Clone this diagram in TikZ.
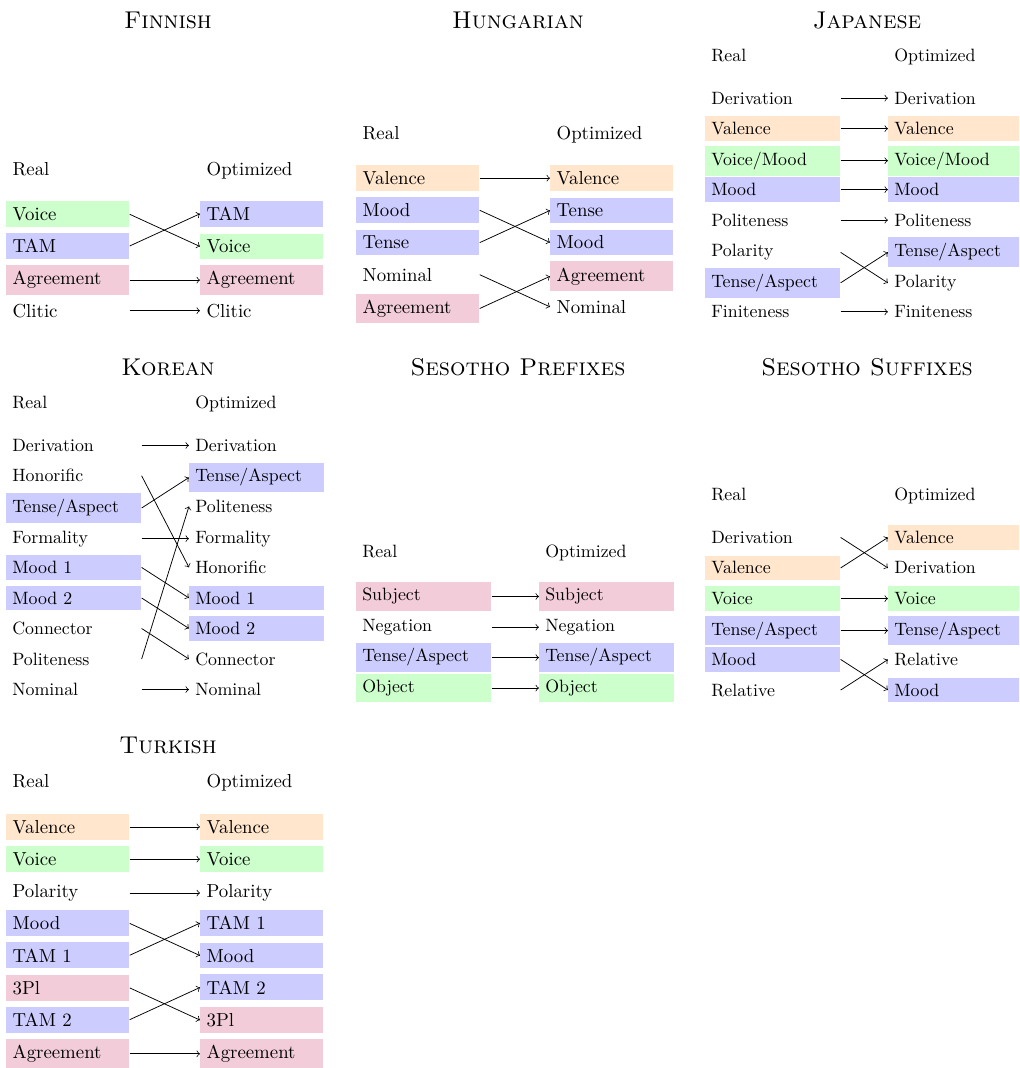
\documentclass[tikz,border=0pt]{standalone}
\definecolor{cVal}{RGB}{255,230,204}
\definecolor{cVoi}{RGB}{204,255,204}
\definecolor{cTam}{RGB}{204,204,255}
\definecolor{cAgr}{RGB}{242,204,217}
\begin{document}
\begin{tikzpicture}[x=0.5316pt,y=-0.5316pt,
  nc/.style={anchor=base west, text width=58.7pt, align=left},
  wc/.style={anchor=base west, text width=69pt, align=left},
  fval/.style={fill=cVal}, fvoi/.style={fill=cVoi}, ftam/.style={fill=cTam}, fagr/.style={fill=cAgr},
  ttl/.style={font=\fontsize{12.9}{15}\selectfont\scshape, anchor=base},
  arr/.style={->}]
\clip (0,0) rectangle (1019,1068);

% titles
\node[ttl] (tF) at (168,28) {Finnish};
\node[ttl] (tH) at (518,28) {Hungarian};
\node[ttl] (tJ) at (867,28) {Japanese};
\node[ttl] (tK) at (168,375.5) {Korean};
\node[ttl] (tSP) at (518,375.5) {Sesotho Prefixes};
\node[ttl] (tSS) at (867,375.5) {Sesotho Suffixes};
\node[ttl] (tT) at (168,753.3) {Turkish};

% Finnish
\begin{scope}[shift={(6,175)}]
\node[nc] (fRh) at (0,0) {Real};
\node[nc] (fOh) at (194,0) {Optimized};
\node[nc,fvoi] (fR0) at (0,45.5) {Voice};
\node[nc,ftam] (fR1) at (0,77.7) {TAM};
\node[nc,fagr] (fR2) at (0,109.9) {Agreement};
\node[nc] (fR3) at (0,142.1) {Clitic};
\node[nc,ftam] (fO0) at (194,45.5) {TAM};
\node[nc,fvoi] (fO1) at (194,77.7) {Voice};
\node[nc,fagr] (fO2) at (194,109.9) {Agreement};
\node[nc] (fO3) at (194,142.1) {Clitic};
\draw[arr] (fR0.east) -- (fO1.west);
\draw[arr] (fR1.east) -- (fO0.west);
\draw[arr] (fR2.east) -- (fO2.west);
\draw[arr] (fR3.east) -- (fO3.west);
\end{scope}

% Hungarian
\begin{scope}[shift={(356,139)}]
\node[nc] (hRh) at (0,0) {Real};
\node[nc] (hOh) at (194,0) {Optimized};
\node[nc,fval] (hR0) at (0,45.5) {Valence};
\node[nc,ftam] (hR1) at (0,77.7) {Mood};
\node[nc,ftam] (hR2) at (0,109.9) {Tense};
\node[nc] (hR3) at (0,142.1) {Nominal};
\node[nc,fagr] (hR4) at (0,174.3) {Agreement};
\node[nc,fval] (hO0) at (194,45.5) {Valence};
\node[nc,ftam] (hO1) at (194,77.7) {Tense};
\node[nc,ftam] (hO2) at (194,109.9) {Mood};
\node[nc,fagr] (hO3) at (194,142.1) {Agreement};
\node[nc] (hO4) at (194,174.3) {Nominal};
\draw[arr] (hR0.east) -- (hO0.west);
\draw[arr] (hR1.east) -- (hO2.west);
\draw[arr] (hR2.east) -- (hO1.west);
\draw[arr] (hR3.east) -- (hO4.west);
\draw[arr] (hR4.east) -- (hO3.west);
\end{scope}

% Japanese
\begin{scope}[shift={(705,61)}, scale=0.948, transform shape]
\node[wc] (jRh) at (0,0) {Real};
\node[wc] (jOh) at (193,0) {Optimized};
\node[wc] (jR0) at (0,45.5) {Derivation};
\node[wc,fval] (jR1) at (0,77.7) {Valence};
\node[wc,fvoi] (jR2) at (0,109.9) {Voice/Mood};
\node[wc,ftam] (jR3) at (0,142.1) {Mood};
\node[wc] (jR4) at (0,174.3) {Politeness};
\node[wc] (jR5) at (0,206.5) {Polarity};
\node[wc,ftam] (jR6) at (0,238.7) {Tense/Aspect};
\node[wc] (jR7) at (0,270.9) {Finiteness};
\node[wc] (jO0) at (193,45.5) {Derivation};
\node[wc,fval] (jO1) at (193,77.7) {Valence};
\node[wc,fvoi] (jO2) at (193,109.9) {Voice/Mood};
\node[wc,ftam] (jO3) at (193,142.1) {Mood};
\node[wc] (jO4) at (193,174.3) {Politeness};
\node[wc,ftam] (jO5) at (193,206.5) {Tense/Aspect};
\node[wc] (jO6) at (193,238.7) {Polarity};
\node[wc] (jO7) at (193,270.9) {Finiteness};
\draw[arr] (jR0.east) -- (jO0.west);
\draw[arr] (jR1.east) -- (jO1.west);
\draw[arr] (jR2.east) -- (jO2.west);
\draw[arr] (jR3.east) -- (jO3.west);
\draw[arr] (jR4.east) -- (jO4.west);
\draw[arr] (jR5.east) -- (jO6.west);
\draw[arr] (jR6.east) -- (jO5.west);
\draw[arr] (jR7.east) -- (jO7.west);
\end{scope}

% Korean
\begin{scope}[shift={(6,408.3)}, scale=0.948, transform shape]
\node[wc] (kRh) at (0,0) {Real};
\node[wc] (kOh) at (193,0) {Optimized};
\node[wc] (kR0) at (0,45.5) {Derivation};
\node[wc] (kR1) at (0,77.7) {Honorific};
\node[wc,ftam] (kR2) at (0,109.9) {Tense/Aspect};
\node[wc] (kR3) at (0,142.1) {Formality};
\node[wc,ftam] (kR4) at (0,174.3) {Mood 1};
\node[wc,ftam] (kR5) at (0,206.5) {Mood 2};
\node[wc] (kR6) at (0,238.7) {Connector};
\node[wc] (kR7) at (0,270.9) {Politeness};
\node[wc] (kR8) at (0,303.1) {Nominal};
\node[wc] (kO0) at (193,45.5) {Derivation};
\node[wc,ftam] (kO1) at (193,77.7) {Tense/Aspect};
\node[wc] (kO2) at (193,109.9) {Politeness};
\node[wc] (kO3) at (193,142.1) {Formality};
\node[wc] (kO4) at (193,174.3) {Honorific};
\node[wc,ftam] (kO5) at (193,206.5) {Mood 1};
\node[wc,ftam] (kO6) at (193,238.7) {Mood 2};
\node[wc] (kO7) at (193,270.9) {Connector};
\node[wc] (kO8) at (193,303.1) {Nominal};
\draw[arr] (kR0.east) -- (kO0.west);
\draw[arr] (kR1.east) -- (kO4.west);
\draw[arr] (kR2.east) -- (kO1.west);
\draw[arr] (kR3.east) -- (kO3.west);
\draw[arr] (kR4.east) -- (kO5.west);
\draw[arr] (kR5.east) -- (kO6.west);
\draw[arr] (kR6.east) -- (kO7.west);
\draw[arr] (kR7.east) -- (kO2.west);
\draw[arr] (kR8.east) -- (kO8.west);
\end{scope}

% Sesotho prefixes
\begin{scope}[shift={(356,557.8)}, scale=0.948, transform shape]
\node[wc] (pRh) at (0,0) {Real};
\node[wc] (pOh) at (193,0) {Optimized};
\node[wc,fagr] (pR0) at (0,45.5) {Subject};
\node[wc] (pR1) at (0,77.7) {Negation};
\node[wc,ftam] (pR2) at (0,109.9) {Tense/Aspect};
\node[wc,fvoi] (pR3) at (0,142.1) {Object};
\node[wc,fagr] (pO0) at (193,45.5) {Subject};
\node[wc] (pO1) at (193,77.7) {Negation};
\node[wc,ftam] (pO2) at (193,109.9) {Tense/Aspect};
\node[wc,fvoi] (pO3) at (193,142.1) {Object};
\draw[arr] (pR0.east) -- (pO0.west);
\draw[arr] (pR1.east) -- (pO1.west);
\draw[arr] (pR2.east) -- (pO2.west);
\draw[arr] (pR3.east) -- (pO3.west);
\end{scope}

% Sesotho suffixes
\begin{scope}[shift={(705,500.3)}, scale=0.948, transform shape]
\node[wc] (sRh) at (0,0) {Real};
\node[wc] (sOh) at (193,0) {Optimized};
\node[wc] (sR0) at (0,45.5) {Derivation};
\node[wc,fval] (sR1) at (0,77.7) {Valence};
\node[wc,fvoi] (sR2) at (0,109.9) {Voice};
\node[wc,ftam] (sR3) at (0,142.1) {Tense/Aspect};
\node[wc,ftam] (sR4) at (0,174.3) {Mood};
\node[wc] (sR5) at (0,206.5) {Relative};
\node[wc,fval] (sO0) at (193,45.5) {Valence};
\node[wc] (sO1) at (193,77.7) {Derivation};
\node[wc,fvoi] (sO2) at (193,109.9) {Voice};
\node[wc,ftam] (sO3) at (193,142.1) {Tense/Aspect};
\node[wc] (sO4) at (193,174.3) {Relative};
\node[wc,ftam] (sO5) at (193,206.5) {Mood};
\draw[arr] (sR0.east) -- (sO1.west);
\draw[arr] (sR1.east) -- (sO0.west);
\draw[arr] (sR2.east) -- (sO2.west);
\draw[arr] (sR3.east) -- (sO3.west);
\draw[arr] (sR4.east) -- (sO5.west);
\draw[arr] (sR5.east) -- (sO4.west);
\end{scope}

% Turkish
\begin{scope}[shift={(6,787.7)}]
\node[nc] (tRh) at (0,0) {Real};
\node[nc] (tOh) at (194,0) {Optimized};
\node[nc,fval] (tR0) at (0,45.5) {Valence};
\node[nc,fvoi] (tR1) at (0,77.7) {Voice};
\node[nc] (tR2) at (0,109.9) {Polarity};
\node[nc,ftam] (tR3) at (0,142.1) {Mood};
\node[nc,ftam] (tR4) at (0,174.3) {TAM 1};
\node[nc,fagr] (tR5) at (0,206.5) {3Pl};
\node[nc,ftam] (tR6) at (0,238.7) {TAM 2};
\node[nc,fagr] (tR7) at (0,270.9) {Agreement};
\node[nc,fval] (tO0) at (194,45.5) {Valence};
\node[nc,fvoi] (tO1) at (194,77.7) {Voice};
\node[nc] (tO2) at (194,109.9) {Polarity};
\node[nc,ftam] (tO3) at (194,142.1) {TAM 1};
\node[nc,ftam] (tO4) at (194,174.3) {Mood};
\node[nc,ftam] (tO5) at (194,206.5) {TAM 2};
\node[nc,fagr] (tO6) at (194,238.7) {3Pl};
\node[nc,fagr] (tO7) at (194,270.9) {Agreement};
\draw[arr] (tR0.east) -- (tO0.west);
\draw[arr] (tR1.east) -- (tO1.west);
\draw[arr] (tR2.east) -- (tO2.west);
\draw[arr] (tR3.east) -- (tO4.west);
\draw[arr] (tR4.east) -- (tO3.west);
\draw[arr] (tR5.east) -- (tO6.west);
\draw[arr] (tR6.east) -- (tO5.west);
\draw[arr] (tR7.east) -- (tO7.west);
\end{scope}
\end{tikzpicture}
\end{document}
